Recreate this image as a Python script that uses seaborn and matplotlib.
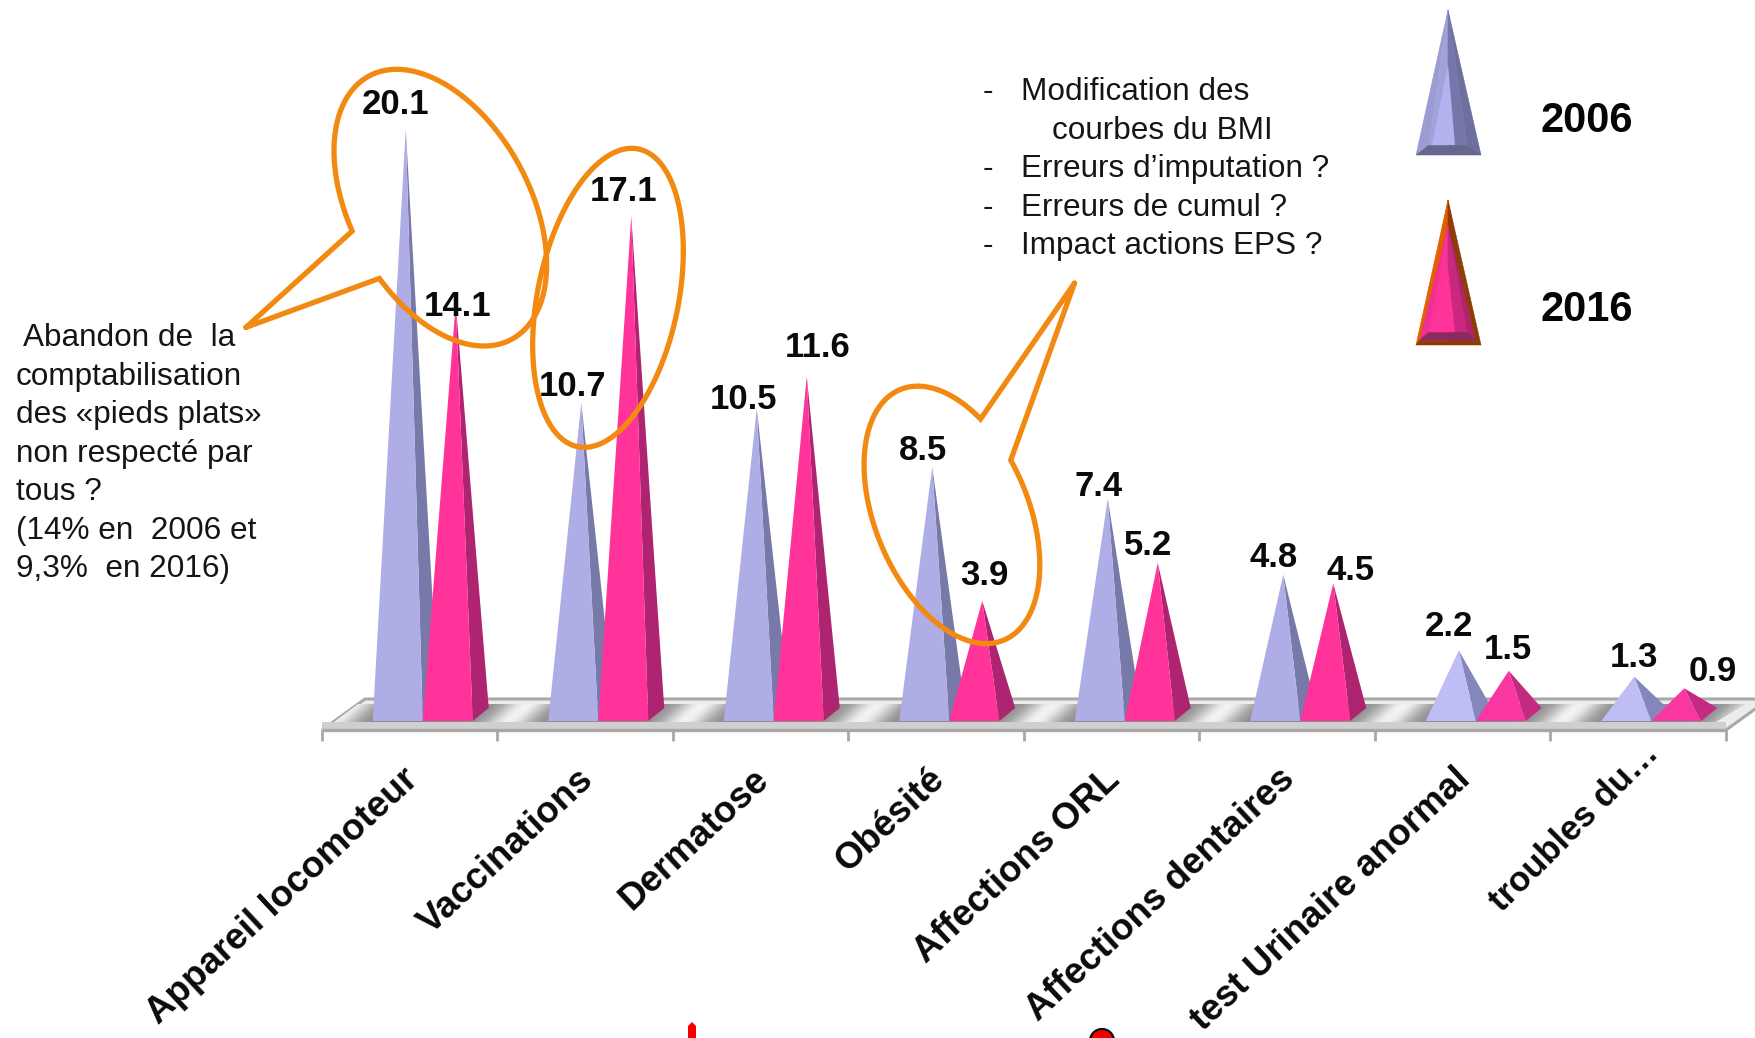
import numpy as np
import pandas as pd
import matplotlib
matplotlib.use("Agg")
import matplotlib.pyplot as plt
from matplotlib.patches import Polygon, PathPatch, Circle, Rectangle
from matplotlib.path import Path
from matplotlib.transforms import ScaledTranslation
import seaborn as sns

categories = ["Appareil locomoteur", "Vaccinations", "Dermatose", "Obésité",
              "Affections ORL", "Affections dentaires", "test Urinaire anormal", "troubles du…"]
values_2006 = [20.1, 10.7, 10.5, 8.5, 7.4, 4.8, 2.2, 1.3]
values_2016 = [14.1, 17.1, 11.6, 3.9, 5.2, 4.5, 1.5, 0.9]
years = ["2006", "2016"]

# label offsets from each apex, in pixels (x right, y up)
offsets_2006 = [(-10, 24), (-9, 16), (-13, 9), (-9, 16), (-9, 12), (-10, 17), (-10, 24), (0, 19)]
offsets_2016 = [(2, -3), (-8, 25), (11, 29), (2, 25), (-10, 17), (17, 13), (-1, 21), (29, 17)]

note_left = [" Abandon de  la", "comptabilisation", "des «pieds plats»", "non respecté par",
             "tous ?", "(14% en  2006 et", "9,3%  en 2016)"]
note_right = [("-", "Modification des", None), (None, None, "courbes du BMI"),
              ("-", "Erreurs d’imputation ?", None), ("-", "Erreurs de cumul ?", None),
              ("-", "Impact actions EPS ?", None)]

W, H = 1755, 1038
PX_Y0 = 714.5       # pixel row of value 0 (centre of pyramid bases)
PX_UNIT = 29.15     # pixels per value unit
PX_CAT = 175.5      # pixels per category
PX_LEFT = 343
DEPTH_X, DEPTH_Y = 8, 6.5

sns.set_theme(style="white")
plt.rcParams["font.family"] = ["Liberation Sans", "DejaVu Sans"]

fig = plt.figure(figsize=(W / 100, H / 100), dpi=100, facecolor="white")

# background layer in pixel coordinates: the 3D floor
bg = fig.add_axes([0, 0, 1, 1], zorder=0)
bg.set_xlim(0, W); bg.set_ylim(H, 0); bg.axis("off")

floor = [(322, 730), (1726, 730), (1769, 699), (365, 699)]
bg.add_patch(Polygon(floor, closed=True, fc="#ececec", ec="#a8a8a8", lw=2.2, zorder=1))
bg.add_patch(Rectangle((322, 722), 1404, 8, fc="#cfcfcf", ec="none", zorder=2))
xx, yy = np.meshgrid(np.arange(322, 1770), np.arange(699, 731))
phase = (xx - 517 + 1.1 * (yy - 713)) / PX_CAT * 2 * np.pi
shine = 0.55 + 0.40 * ((np.cos(phase) + 1) / 2) ** 6
band = bg.imshow(shine, extent=(322, 1770, 731, 699), cmap="gray", vmin=0, vmax=1,
                 aspect="auto", zorder=2, interpolation="bilinear")
band.set_clip_path(Polygon([(334, 722), (1716, 722), (1746, 704), (358, 704)], closed=True,
                           transform=bg.transData))
bg.set_xlim(0, W); bg.set_ylim(H, 0)
bg.plot([322, 1726], [730, 730], color="#a8a8a8", lw=2.4, zorder=3, solid_capstyle="butt")
for i in range(len(categories) + 1):
    bg.plot([322 + i * PX_CAT] * 2, [730, 741], color="#a8a8a8", lw=2, zorder=3, solid_capstyle="butt")

# main chart
df = pd.DataFrame({
    "categorie": categories * 2,
    "annee": [years[0]] * len(categories) + [years[1]] * len(categories),
    "valeur": values_2006 + values_2016,
})
ax = fig.add_axes([PX_LEFT / W, (H - PX_Y0) / H, len(categories) * PX_CAT / W, PX_Y0 / H], zorder=1)
ax.patch.set_alpha(0)
sns.barplot(data=df, x="categorie", y="valeur", hue="annee", order=categories, hue_order=years,
            width=100 / PX_CAT, gap=0, legend=False, ax=ax)
ax.set_xlim(-0.5, len(categories) - 0.5)
ax.set_ylim(0, PX_Y0 / PX_UNIT)
ax.set_xlabel(""); ax.set_ylabel(""); ax.set_yticks([])
sns.despine(ax=ax, left=True, bottom=True)
ax.tick_params(axis="x", length=0, pad=0)
ax.set_xticks(range(len(categories)))
ax.set_xticklabels(categories, rotation=43, ha="right", va="center", rotation_mode="anchor",
                   fontsize=26.5, fontweight="bold", color="#0a0a0a")
for lab, (sx, sy) in zip(ax.get_xticklabels(),
                         [(-18, -60)] * 7 + [(-6, -34)]):
    lab.set_transform(lab.get_transform() + ScaledTranslation(sx / 100, sy / 100, fig.dpi_scale_trans))
ax.get_xticklabels()[-1].set_fontsize(25)
ax.get_xticklabels()[-1].set_rotation(45)

dxd, dyd = DEPTH_X / PX_CAT, DEPTH_Y / PX_UNIT
face = {0: ("#AEADE6", "#777AA8"), 1: ("#FF3399", "#AE2470")}
face_small = {0: ("#BFBDF6", "#8587BA"), 1: ("#FA36A0", "#C42A82")}
offs = {0: offsets_2006, 1: offsets_2016}
n_cat = len(categories)
containers = ax.containers
for c in range(n_cat):
    for s in (0, 1):
        bar = containers[s][c]
        x, w, h = bar.get_x(), bar.get_width(), bar.get_height()
        bar.set_visible(False)
        front, side = (face_small if h < 3 else face)[s]
        fl, fr = (x - dxd, -dyd), (x + w - dxd, -dyd)
        br, apex = (x + w + dxd, dyd), (x + w / 2, h)
        ax.add_patch(Polygon([fr, br, apex], closed=True, fc=side, ec="none", clip_on=False, zorder=3 + s))
        ax.add_patch(Polygon([fl, fr, apex], closed=True, fc=front, ec="none", clip_on=False, zorder=3 + s))
        ax.annotate(f"{h:.1f}", xy=apex, xytext=offs[s][c], textcoords="offset pixels",
                    ha="center", va="center", fontsize=25, fontweight="bold", color="#0a0a0a",
                    annotation_clip=False, zorder=8)

# top layer in pixel coordinates: call-outs, notes, legend
top = fig.add_axes([0, 0, 1, 1], zorder=2)
top.set_xlim(0, W); top.set_ylim(H, 0); top.axis("off"); top.patch.set_alpha(0)

ORANGE = "#F28A12"


def tilted_ellipse(left, right, ytop, ybottom, xtop, n=360):
    """Ellipse given by its bounding box and the x of its topmost point."""
    c = np.array([(left + right) / 2, (ytop + ybottom) / 2])
    hw, hh = (right - left) / 2, (ybottom - ytop) / 2
    sxy = (xtop - c[0]) * (-hh)
    L = np.linalg.cholesky(np.array([[hw ** 2, sxy], [sxy, hh ** 2]]))
    t = np.linspace(0, 2 * np.pi, n, endpoint=False)
    return c + (L @ np.vstack([np.cos(t), np.sin(t)])).T


def outline(xy):
    top.add_patch(PathPatch(Path(np.asarray(xy), closed=False), fc="none", ec=ORANGE, lw=3.8,
                            joinstyle="miter", capstyle="round", zorder=6))


def bubble(ell, tip, a, b):
    """Outline going round the ellipse between the points nearest a and b, the long way, then to the tip."""
    ia = np.argmin(np.hypot(*(ell - a).T))
    ib = np.argmin(np.hypot(*(ell - b).T))
    n = len(ell)
    arc1 = [ell[(ia + k) % n] for k in range((ib - ia) % n + 1)]
    arc2 = [ell[(ia - k) % n] for k in range((ia - ib) % n + 1)]
    arc = arc1 if len(arc1) > len(arc2) else arc2
    outline(np.vstack([tip, arc, tip]))


def z(x, y):
    return np.array([230 + x / 3, 50 + y / 3])


SC = W / 1568
bubble(tilted_ellipse(z(312, 0)[0], z(950, 0)[0], z(0, 58)[1], z(0, 888)[1], z(500, 0)[0]),
       z(48, 832), z(370, 538), z(452, 685))
e2 = tilted_ellipse(z(908, 0)[0], z(1360, 0)[0], z(0, 295)[1], z(0, 1192)[1], z(1205, 0)[0])
outline(np.vstack([e2, e2[0]]))
bubble(tilted_ellipse(772 * SC, 929 * SC, 345 * SC, 575 * SC, 820 * SC),
       np.array([960, 253]) * SC, np.array([897, 414]) * SC, np.array([870, 380]) * SC)

# notes
TXT = dict(fontsize=22.7, color="#151515", va="center", ha="left")
for i, line in enumerate(note_left):
    top.text(16, 338.5 + i * 38.4, line, **TXT)
for i, (dash, line, cont) in enumerate(note_right):
    y = 92 + i * 38.6
    if dash:
        top.text(983, y, dash, **TXT)
        top.text(1021, y, line, **TXT)
    else:
        top.text(1052, y, cont, **TXT)


# legend pyramids
def pyramid(ax_, A, T, L, R, B, il, ir, ib, cols, zo):
    left, right, bottom, mid_l, mid_r, centre = cols
    polys = [([(A, T), (L, B), (il, ib)], left),
             ([(A, T), (R, B), (ir, ib)], right),
             ([(L, B), (R, B), (ir, ib), (il, ib)], bottom),
             ([(A, T), (il, ib), (A, ib)], mid_l),
             ([(A, T), (ir, ib), (A, ib)], mid_r)]
    for pts, col in polys:
        ax_.add_patch(Polygon(pts, closed=True, fc=col, ec=col, lw=0.4, zorder=zo))
    ax_.add_patch(Polygon([(A, T + 0.4 * (ib - T)), (il + 3, ib), (ir - 12, ib)], closed=True,
                          fc=centre, ec="none", zorder=zo + 0.1))


pyramid(top, 1448, 10, 1416, 1481, 155, 1429, 1467, 145,
        ("#9C9CD2", "#6E6F9E", "#66668E", "#A2A2DA", "#7676AA", "#B2B2EE"), 5)
pyramid(top, 1448, 200, 1416, 1481, 345, 1420, 1475, 340,
        ("#E35E00", "#8E3B08", "#8E3B08", "#E35E00", "#8E3B08", "#E35E00"), 5)
pyramid(top, 1448, 226, 1420, 1475, 340, 1429, 1467, 332,
        ("#F02E95", "#B0246F", "#8A2A60", "#FB3399", "#C8297F", "#FF3399"), 6)
for lab, y in zip(years, (121, 310)):
    top.text(1541, y, lab, fontsize=30, fontweight="bold", color="#050505", va="center", ha="left")

# logo fragments cut off by the lower edge
top.add_patch(Polygon([(688, 1038), (688, 1026), (692, 1022), (696, 1026), (696, 1038)], closed=True,
                      fc="#F40000", ec="none", zorder=6))
top.add_patch(Circle((1102, 1041), 12, fc="#F40000", ec="#101010", lw=1.6, zorder=6))

fig.savefig("out.png", dpi=100)
